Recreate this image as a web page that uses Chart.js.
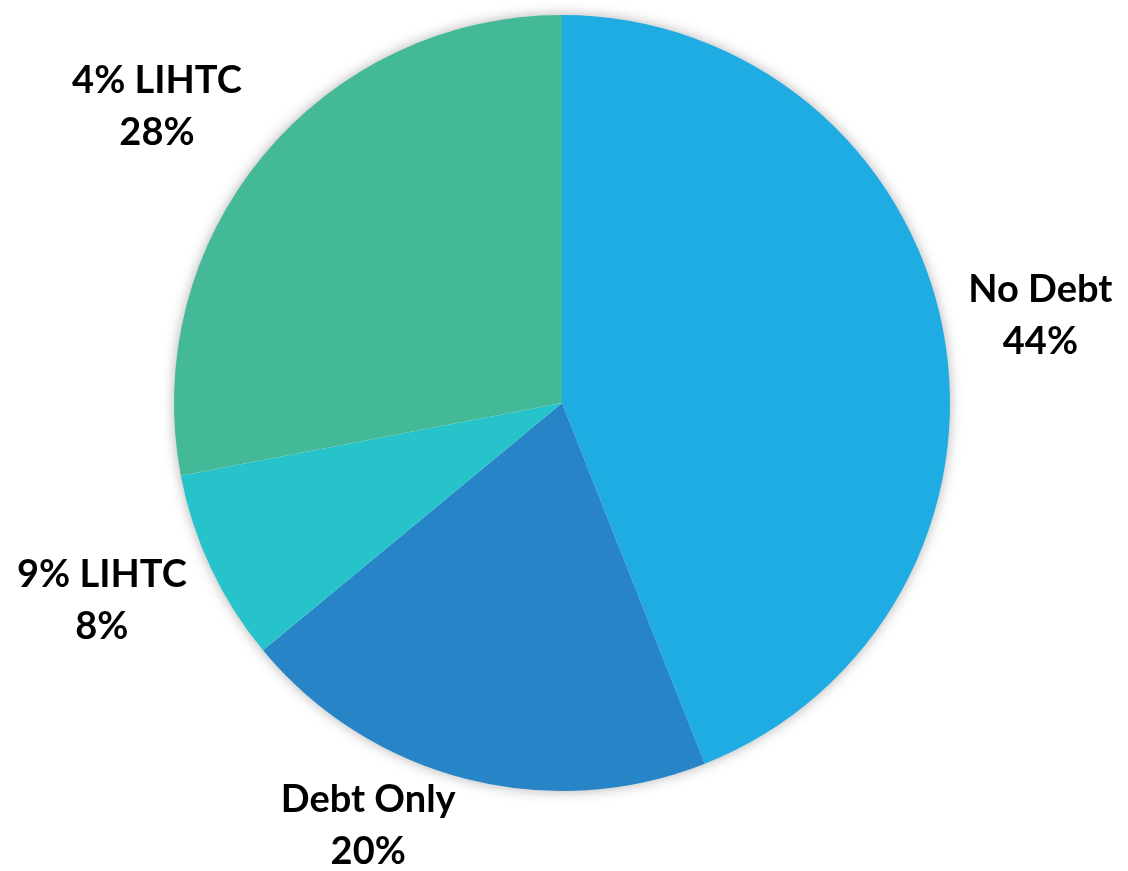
<!DOCTYPE html>
<html>
<head>
<meta charset="utf-8">
<script src="https://cdn.jsdelivr.net/npm/chart.js@4"></script>
<style>
  body { margin: 0; background: #fff; }
  canvas { display: block; }
</style>
</head>
<body>
<canvas id="pieChart" width="1128" height="871"></canvas>
<script>
// Chart data
var categories = ['No Debt', 'Debt Only', '9% LIHTC', '4% LIHTC'];
var shares = [44, 20, 8, 28];
var sliceColors = ['#1FACE3', '#2784C7', '#27C3CB', '#44B997'];

// Soft shadow behind the pie
var pieShadow = {
    id: 'pieShadow',
    beforeDatasetsDraw: function(chart) {
        var arc = chart.getDatasetMeta(0).data[0];
        if (!arc) return;
        var ctx = chart.ctx;
        ctx.save();
        ctx.shadowColor = 'rgba(0,0,0,0.35)';
        ctx.shadowBlur = 14;
        ctx.fillStyle = '#ffffff';
        ctx.beginPath();
        ctx.arc(arc.x, arc.y, arc.outerRadius - 1, 0, Math.PI * 2);
        ctx.fill();
        ctx.restore();
    }
};

// Outside labels: "name" on first line, "pct%" on second
var outsideLabels = {
    id: 'outsideLabels',
    afterDatasetsDraw: function(chart) {
        var ctx = chart.ctx;
        var meta = chart.getDatasetMeta(0);
        var lineH = 52;
        var gap = 22;
        ctx.save();
        ctx.font = 'bold 38px Lato';
        ctx.fillStyle = '#000';
        ctx.textBaseline = 'middle';
        ctx.textAlign = 'center';
        meta.data.forEach(function(arc, i) {
            var mid = (arc.startAngle + arc.endAngle) / 2;
            var dx = Math.cos(mid), dy = Math.sin(mid);
            var ax = arc.x + (arc.outerRadius + gap) * dx;
            var ay = arc.y + (arc.outerRadius + gap) * dy;
            var lines = [categories[i], shares[i] + '%'];
            var w = Math.max(ctx.measureText(lines[0]).width, ctx.measureText(lines[1]).width);
            var h = lineH * 2 - 10;
            var sx = dx >= 0 ? 1.05 : -1.05;
            var sy = Math.max(-1, Math.min(1, dy * 1.3)) * 0.9;
            var cx = ax + sx * w / 2;
            var cy = ay + sy * h / 2;
            // keep the block inside the canvas
            cy = Math.min(cy, chart.height - lineH / 2 - 19);
            ctx.fillText(lines[0], cx, cy - lineH / 2);
            ctx.fillText(lines[1], cx, cy + lineH / 2);
        });
        ctx.restore();
    }
};

var chart = new Chart(document.getElementById('pieChart'), {
    type: 'pie',
    data: {
        labels: categories,
        datasets: [{
            data: shares,
            backgroundColor: sliceColors,
            borderWidth: 0,
            hoverOffset: 0
        }]
    },
    options: {
        responsive: false,
        animation: false,
        layout: { padding: { top: 15, bottom: 80, left: 0, right: 4 } },
        plugins: {
            legend: { display: false },
            tooltip: { enabled: false }
        }
    },
    plugins: [pieShadow, outsideLabels]
});
</script>
</body>
</html>
